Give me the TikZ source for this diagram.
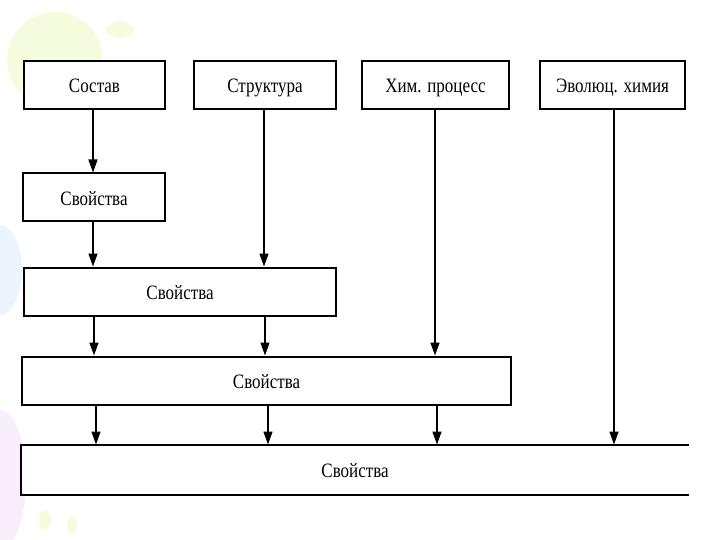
\documentclass[tikz,border=0pt]{standalone}
\usepackage{fontspec}
\setmainfont{Liberation Serif}
\definecolor{bgyellow}{RGB}{246,252,222}
\definecolor{bgblue}{RGB}{236,245,253}
\definecolor{bgpink}{RGB}{248,238,252}
\usetikzlibrary{arrows.meta,positioning,calc}
\newcommand{\talltext}[1]{\scalebox{1}[1.2]{#1}}
\tikzset{
  blockbox/.style={draw=black, line width=2pt, fill=white, minimum height=48pt, inner sep=0pt, text height=17pt, text depth=1.5pt, font=\fontsize{17}{20}\selectfont},
  flow/.style={-{Triangle[length=13pt,width=9pt]}, line width=1.4pt, black}
}
\begin{document}
\begin{tikzpicture}[x=1pt,y=-1pt]
  \useasboundingbox (0,0) rectangle (720,540);
  % faint background
  \fill[bgyellow] (55,60) circle (48);
  \fill[bgyellow] (120,30) ellipse (14 and 8);
  \fill[bgblue] (0,270) ellipse (22 and 45);
  \fill[bgpink] (0,480) ellipse (26 and 70);
  \fill[bgyellow] (45,520) ellipse (6 and 10);
  \fill[bgyellow] (72,525) ellipse (5 and 9);
  % top row
  \node[blockbox, minimum width=141pt] (sostav) at (94.5,85) {\talltext{Состав}};
  \node[blockbox, minimum width=142pt] (struktura) at (265,85) {\talltext{Структура}};
  \node[blockbox, minimum width=147pt] (khim) at (435.5,85) {\talltext{Хим. процесс}};
  \node[blockbox, minimum width=145pt] (evol) at (612.5,85) {\talltext{Эволюц. химия}};
  % properties
  \node[blockbox, minimum width=142pt] (svoj1) at (94,197.5) {\talltext{Свойства}};
  \node[blockbox, minimum width=312pt] (svoj2) at (180,291.5) {\talltext{Свойства}};
  \node[blockbox, minimum width=489pt] (svoj3) at (266.5,380.5) {\talltext{Свойства}};
  \node[blockbox, draw=none, minimum width=666pt] (svoj4) at (355,469.5) {\talltext{Свойства}};
  \draw[line width=2pt] (svoj4.north east) -- (svoj4.north west) -- (svoj4.south west) -- (svoj4.south east);
  % arrows
  \draw[flow] (sostav.south -| 93,0) -- (svoj1.north -| 93,0);
  \draw[flow] (svoj1.south -| 93,0) -- (svoj2.north -| 93,0);
  \draw[flow] (struktura.south -| 264,0) -- (svoj2.north -| 264,0);
  \draw[flow] (svoj2.south -| 94,0) -- (svoj3.north -| 94,0);
  \draw[flow] (svoj2.south -| 265,0) -- (svoj3.north -| 265,0);
  \draw[flow] (khim.south -| 435,0) -- (svoj3.north -| 435,0);
  \draw[flow] (svoj3.south -| 96,0) -- (svoj4.north -| 96,0);
  \draw[flow] (svoj3.south -| 268,0) -- (svoj4.north -| 268,0);
  \draw[flow] (svoj3.south -| 437,0) -- (svoj4.north -| 437,0);
  \draw[flow] (evol.south -| 614,0) -- (svoj4.north -| 614,0);
\end{tikzpicture}
\end{document}
